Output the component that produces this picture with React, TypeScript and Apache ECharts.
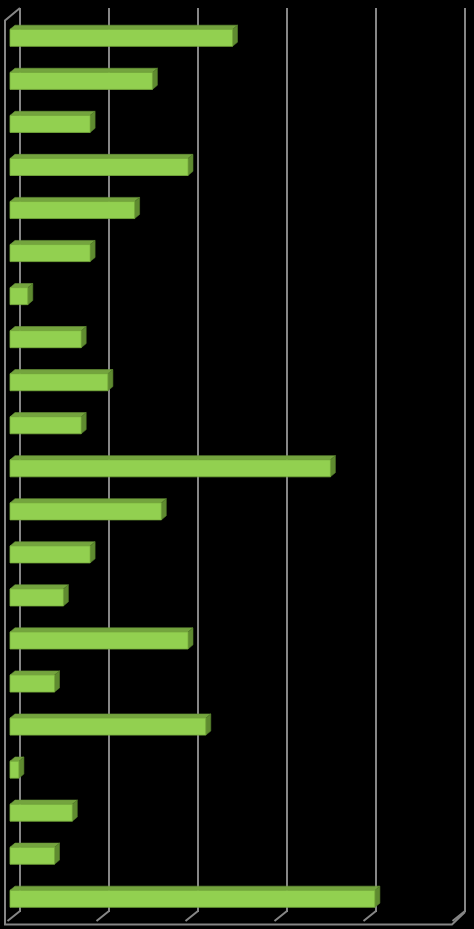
import React, { useEffect, useRef } from "react";
import * as echarts from "echarts";

// categories top to bottom (labels are not shown in the picture)
const categories = [
  "1", "2", "3", "4", "5", "6", "7", "8", "9", "10", "11",
  "12", "13", "14", "15", "16", "17", "18", "19", "20", "21",
];
const values = [25, 16, 9, 20, 14, 9, 2, 8, 11, 8, 36, 17, 9, 6, 20, 5, 22, 1, 7, 5, 41];
const xTicks = [0, 10, 20, 30, 40, 50];

const GRID_COLOR = "#868686";
const FRONT = "#92d050";
const TOP = "#74a43e";
const SIDE = "#5f8b30";

// 3D depth of the plot box (front relative to back wall)
const DEPTH_X = -15;
const DEPTH_Y = 12.5;

export default function App() {
  const chartRef = useRef<HTMLDivElement>(null);

  useEffect(() => {
    document.body.style.margin = "0";
    document.body.style.background = "#000";
    if (!chartRef.current) return;
    const chart = echarts.init(chartRef.current, undefined, { renderer: "svg" });

    const lineStyle = { stroke: GRID_COLOR, lineWidth: 2, fill: null };

    chart.setOption({
      animation: false,
      backgroundColor: "#000",
      grid: { left: 20, right: 9, top: 8, bottom: 17, containLabel: false },
      xAxis: {
        type: "value",
        min: 0,
        max: 50,
        interval: 10,
        axisLabel: { show: false },
        axisLine: { show: false },
        axisTick: { show: false },
        splitLine: { show: true, lineStyle: { color: GRID_COLOR, width: 2 } },
      },
      yAxis: {
        type: "category",
        inverse: true,
        data: categories,
        axisLabel: { show: false },
        axisLine: { show: false },
        axisTick: { show: false },
        splitLine: { show: false },
      },
      series: [
        {
          // floor and side frame of the 3D box
          type: "custom",
          silent: true,
          data: xTicks,
          z: 1,
          renderItem: (params: any, api: any) => {
            const v = api.value(0);
            const band = api.size([0, 1])[1];
            const pBottom = api.coord([v, categories.length - 1]);
            const pTop = api.coord([v, 0]);
            const x = pBottom[0];
            const yb = pBottom[1] + band / 2;
            const yt = pTop[1] - band / 2;
            const children: any[] = [
              {
                type: "line",
                shape: { x1: x, y1: yb - 1, x2: x - 12.5, y2: yb + 9 },
                style: lineStyle,
              },
            ];
            if (params.dataIndex === 0) {
              const xEnd = api.coord([xTicks[xTicks.length - 1], 0])[0];
              children.push(
                {
                  type: "polyline",
                  shape: {
                    points: [
                      [x, yt],
                      [x + DEPTH_X, yt + DEPTH_Y],
                      [x + DEPTH_X, yb + DEPTH_Y],
                      [xEnd + DEPTH_X + 2, yb + DEPTH_Y],
                      [xEnd, yb],
                    ],
                  },
                  style: lineStyle,
                }
              );
            }
            return { type: "group", children };
          },
        },
        {
          type: "custom",
          data: values.map((v, i) => [v, i]),
          encode: { x: 0, y: 1 },
          z: 2,
          renderItem: (params: any, api: any) => {
            const v = api.value(0);
            const idx = api.value(1);
            const band = api.size([0, 1])[1];
            const start = api.coord([0, idx]);
            const end = api.coord([v, idx]);
            const fx = DEPTH_X * (2 / 3);
            const fy = DEPTH_Y * (2 / 3);
            const bx = -DEPTH_X / 3;
            const by = -DEPTH_Y / 3;
            const h = band * 0.395;
            const x0 = start[0] + fx;
            const x1 = end[0] + fx;
            const yc = start[1] + fy;
            const top = yc - h / 2;
            const bottom = yc + h / 2;
            return {
              type: "group",
              children: [
                {
                  type: "polygon",
                  shape: {
                    points: [
                      [x0, top],
                      [x1, top],
                      [x1 + bx, top + by],
                      [x0 + bx, top + by],
                    ],
                  },
                  style: { fill: TOP, stroke: "#6a973a", lineWidth: 0.6 },
                },
                {
                  type: "polygon",
                  shape: {
                    points: [
                      [x1, top],
                      [x1 + bx, top + by],
                      [x1 + bx, bottom + by],
                      [x1, bottom],
                    ],
                  },
                  style: { fill: SIDE, stroke: "#567f2b", lineWidth: 0.6 },
                },
                {
                  type: "rect",
                  shape: { x: x0, y: top, width: x1 - x0, height: h },
                  style: { fill: FRONT, stroke: "#78ad3e", lineWidth: 0.8 },
                },
              ],
            };
          },
        },
      ],
    });

    return () => {
      chart.dispose();
    };
  }, []);

  return <div ref={chartRef} style={{ width: 474, height: 929 }} />;
}
